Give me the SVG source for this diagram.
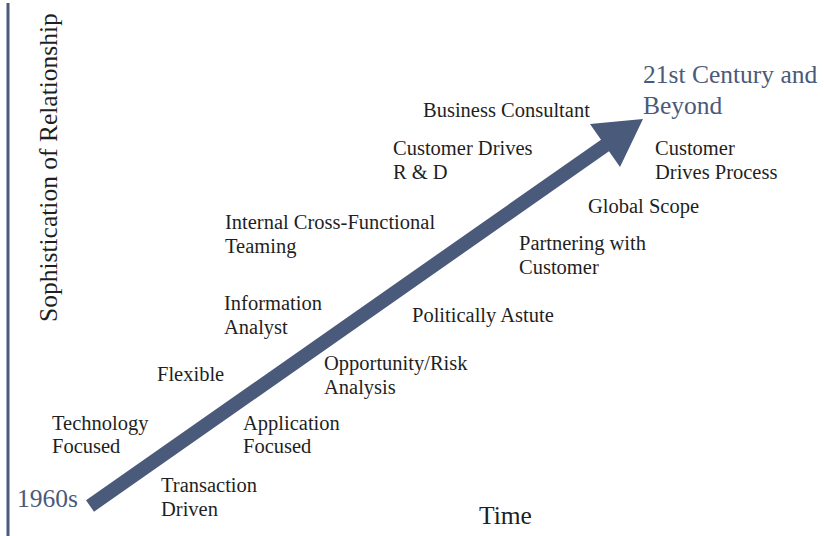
<svg xmlns="http://www.w3.org/2000/svg" width="824" height="536" viewBox="0 0 824 536">
  <style>
    .lbl { font-family: "Liberation Serif", "DejaVu Serif", serif; font-size: 20.5px; fill: #1f1f1f; }
    .era { font-family: "Liberation Serif", "DejaVu Serif", serif; font-size: 25.5px; fill: #4a5a7a; }
    .axis { font-family: "Liberation Serif", "DejaVu Serif", serif; font-size: 25.5px; fill: #1f1f1f; }
  </style>
  <rect width="824" height="536" fill="#ffffff"/>

  <!-- vertical axis -->
  <line x1="8" y1="3" x2="8" y2="536" stroke="#4a5a7a" stroke-width="3"/>
  <text class="axis" transform="translate(57,322) rotate(-90)">Sophistication of Relationship</text>
  <text class="axis" x="479" y="524">Time</text>

  <!-- growth arrow -->
  <g id="connectors">
    <polygon fill="#4a5a7a" points="86,500.3 94,511.7 609,151.2 620,167 643,119 590,124 601,139.7"/>
  </g>

  <g id="start"><text class="era" x="17" y="507">1960s</text></g>
  <g id="end"><text class="era" x="643" y="83">21st Century and</text><text class="era" x="643" y="114">Beyond</text></g>

  <g id="technology-focused"><text class="lbl" x="52" y="430">Technology</text><text class="lbl" x="52" y="453">Focused</text></g>
  <g id="transaction-driven"><text class="lbl" x="161" y="492">Transaction</text><text class="lbl" x="161" y="516">Driven</text></g>
  <g id="flexible"><text class="lbl" x="157" y="381">Flexible</text></g>
  <g id="application-focused"><text class="lbl" x="243" y="430">Application</text><text class="lbl" x="243" y="453">Focused</text></g>
  <g id="information-analyst"><text class="lbl" x="224" y="310">Information</text><text class="lbl" x="224" y="334">Analyst</text></g>
  <g id="opportunity-risk"><text class="lbl" x="324" y="370">Opportunity/Risk</text><text class="lbl" x="324" y="394">Analysis</text></g>
  <g id="politically-astute"><text class="lbl" x="412" y="322">Politically Astute</text></g>
  <g id="cross-functional"><text class="lbl" x="225" y="229">Internal Cross-Functional</text><text class="lbl" x="225" y="253">Teaming</text></g>
  <g id="partnering"><text class="lbl" x="519" y="250">Partnering with</text><text class="lbl" x="519" y="274">Customer</text></g>
  <g id="global-scope"><text class="lbl" x="588" y="213">Global Scope</text></g>
  <g id="customer-rd"><text class="lbl" x="393" y="155">Customer Drives</text><text class="lbl" x="393" y="179">R &amp; D</text></g>
  <g id="business-consultant"><text class="lbl" x="423" y="117">Business Consultant</text></g>
  <g id="customer-process"><text class="lbl" x="655" y="155">Customer</text><text class="lbl" x="655" y="179">Drives Process</text></g>
</svg>
